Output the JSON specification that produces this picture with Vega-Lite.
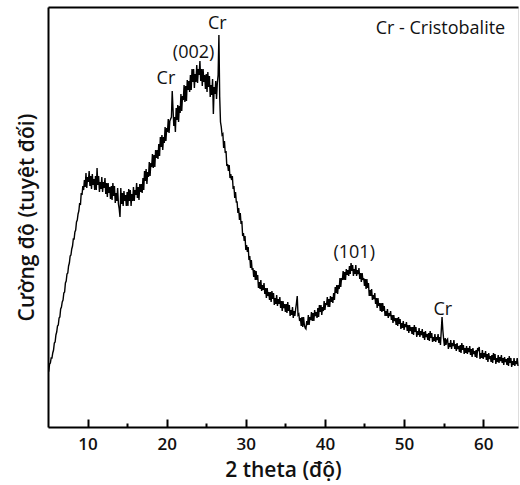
{
  "$schema": "https://vega.github.io/schema/vega-lite/v6.json",
  "width": 470,
  "height": 420,
  "autosize": {"type": "none"},
  "padding": {"left": 48, "top": 7, "right": 2, "bottom": 58},
  "datasets": {
    "xrd": [
      {"t":5.0,"i":56},{"t":5.1,"i":56},{"t":5.2,"i":63},{"t":5.3,"i":64},{"t":5.4,"i":69},{"t":5.5,"i":69},{"t":5.6,"i":74},{"t":5.7,"i":77},{"t":5.8,"i":84},{"t":5.9,"i":85},
      {"t":6.0,"i":92},{"t":6.1,"i":95},{"t":6.2,"i":101},{"t":6.3,"i":102},{"t":6.4,"i":109},{"t":6.5,"i":110},{"t":6.6,"i":118},{"t":6.7,"i":120},{"t":6.8,"i":125},{"t":6.9,"i":127},
      {"t":7.0,"i":134},{"t":7.1,"i":135},{"t":7.2,"i":144},{"t":7.3,"i":146},{"t":7.4,"i":153},{"t":7.5,"i":154},{"t":7.6,"i":161},{"t":7.7,"i":164},{"t":7.8,"i":171},{"t":7.9,"i":172},
      {"t":8.0,"i":178},{"t":8.1,"i":181},{"t":8.2,"i":188},{"t":8.3,"i":188},{"t":8.4,"i":195},{"t":8.5,"i":197},{"t":8.6,"i":205},{"t":8.7,"i":207},{"t":8.8,"i":213},{"t":8.9,"i":216},
      {"t":9.0,"i":224},{"t":9.1,"i":222},{"t":9.2,"i":234},{"t":9.3,"i":232},{"t":9.4,"i":241},{"t":9.5,"i":237},{"t":9.6,"i":247},{"t":9.7,"i":240},{"t":9.8,"i":254},{"t":9.9,"i":239},
      {"t":10.0,"i":250},{"t":10.1,"i":245},{"t":10.2,"i":256},{"t":10.3,"i":241},{"t":10.4,"i":251},{"t":10.5,"i":238},{"t":10.6,"i":253},{"t":10.7,"i":242},{"t":10.8,"i":248},{"t":10.9,"i":237},
      {"t":11.0,"i":251},{"t":11.1,"i":237},{"t":11.2,"i":259},{"t":11.3,"i":242},{"t":11.4,"i":251},{"t":11.5,"i":235},{"t":11.6,"i":245},{"t":11.7,"i":238},{"t":11.8,"i":250},{"t":11.9,"i":235},
      {"t":12.0,"i":245},{"t":12.1,"i":239},{"t":12.2,"i":249},{"t":12.3,"i":233},{"t":12.4,"i":244},{"t":12.5,"i":230},{"t":12.6,"i":244},{"t":12.7,"i":234},{"t":12.8,"i":240},{"t":12.9,"i":228},
      {"t":13.0,"i":241},{"t":13.1,"i":227},{"t":13.2,"i":244},{"t":13.3,"i":231},{"t":13.4,"i":241},{"t":13.5,"i":224},{"t":13.6,"i":234},{"t":13.7,"i":226},{"t":13.8,"i":239},{"t":13.9,"i":223},
      {"t":14.0,"i":218},{"t":14.1,"i":210},{"t":14.2,"i":239},{"t":14.3,"i":223},{"t":14.4,"i":234},{"t":14.5,"i":221},{"t":14.6,"i":236},{"t":14.7,"i":226},{"t":14.8,"i":232},{"t":14.9,"i":221},
      {"t":15.0,"i":235},{"t":15.1,"i":221},{"t":15.2,"i":238},{"t":15.3,"i":226},{"t":15.4,"i":237},{"t":15.5,"i":221},{"t":15.6,"i":233},{"t":15.7,"i":226},{"t":15.8,"i":240},{"t":15.9,"i":226},
      {"t":16.0,"i":237},{"t":16.1,"i":232},{"t":16.2,"i":244},{"t":16.3,"i":229},{"t":16.4,"i":240},{"t":16.5,"i":227},{"t":16.6,"i":243},{"t":16.7,"i":235},{"t":16.8,"i":243},{"t":16.9,"i":234},
      {"t":17.0,"i":249},{"t":17.1,"i":237},{"t":17.2,"i":256},{"t":17.3,"i":246},{"t":17.4,"i":258},{"t":17.5,"i":243},{"t":17.6,"i":255},{"t":17.7,"i":250},{"t":17.8,"i":265},{"t":17.9,"i":251},
      {"t":18.0,"i":264},{"t":18.1,"i":260},{"t":18.2,"i":273},{"t":18.3,"i":259},{"t":18.4,"i":272},{"t":18.5,"i":260},{"t":18.6,"i":277},{"t":18.7,"i":269},{"t":18.8,"i":277},{"t":18.9,"i":268},
      {"t":19.0,"i":283},{"t":19.1,"i":271},{"t":19.2,"i":290},{"t":19.3,"i":280},{"t":19.4,"i":292},{"t":19.5,"i":277},{"t":19.6,"i":290},{"t":19.7,"i":284},{"t":19.8,"i":300},{"t":19.9,"i":286},
      {"t":20.0,"i":299},{"t":20.1,"i":295},{"t":20.2,"i":308},{"t":20.3,"i":294},{"t":20.4,"i":306},{"t":20.5,"i":308},{"t":20.6,"i":310},{"t":20.7,"i":336},{"t":20.8,"i":318},{"t":20.9,"i":301},
      {"t":21.0,"i":310},{"t":21.1,"i":295},{"t":21.2,"i":319},{"t":21.3,"i":307},{"t":21.4,"i":322},{"t":21.5,"i":305},{"t":21.6,"i":321},{"t":21.7,"i":314},{"t":21.8,"i":333},{"t":21.9,"i":316},
      {"t":22.0,"i":331},{"t":22.1,"i":327},{"t":22.2,"i":342},{"t":22.3,"i":325},{"t":22.4,"i":341},{"t":22.5,"i":326},{"t":22.6,"i":347},{"t":22.7,"i":337},{"t":22.8,"i":346},{"t":22.9,"i":335},
      {"t":23.0,"i":352},{"t":23.1,"i":337},{"t":23.2,"i":358},{"t":23.3,"i":345},{"t":23.4,"i":358},{"t":23.5,"i":339},{"t":23.6,"i":353},{"t":23.7,"i":345},{"t":23.8,"i":362},{"t":23.9,"i":344},
      {"t":24.0,"i":358},{"t":24.1,"i":352},{"t":24.2,"i":366},{"t":24.3,"i":346},{"t":24.4,"i":358},{"t":24.5,"i":341},{"t":24.6,"i":358},{"t":24.7,"i":345},{"t":24.8,"i":352},{"t":24.9,"i":338},
      {"t":25.0,"i":353},{"t":25.1,"i":335},{"t":25.2,"i":355},{"t":25.3,"i":340},{"t":25.4,"i":351},{"t":25.5,"i":330},{"t":25.6,"i":342},{"t":25.7,"i":332},{"t":25.8,"i":348},{"t":25.9,"i":313},
      {"t":26.0,"i":340},{"t":26.1,"i":333},{"t":26.2,"i":346},{"t":26.3,"i":328},{"t":26.4,"i":344},{"t":26.5,"i":352},{"t":26.6,"i":392},{"t":26.7,"i":330},{"t":26.8,"i":305},{"t":26.9,"i":300},
      {"t":27.0,"i":292},{"t":27.1,"i":293},{"t":27.2,"i":279},{"t":27.3,"i":286},{"t":27.4,"i":274},{"t":27.5,"i":276},{"t":27.6,"i":261},{"t":27.7,"i":263},{"t":27.8,"i":256},{"t":27.9,"i":262},
      {"t":28.0,"i":249},{"t":28.1,"i":253},{"t":28.2,"i":247},{"t":28.3,"i":251},{"t":28.4,"i":238},{"t":28.5,"i":241},{"t":28.6,"i":229},{"t":28.7,"i":235},{"t":28.8,"i":225},{"t":28.9,"i":225},
      {"t":29.0,"i":214},{"t":29.1,"i":219},{"t":29.2,"i":207},{"t":29.3,"i":214},{"t":29.4,"i":203},{"t":29.5,"i":206},{"t":29.6,"i":191},{"t":29.7,"i":194},{"t":29.8,"i":186},{"t":29.9,"i":191},
      {"t":30.0,"i":177},{"t":30.1,"i":182},{"t":30.2,"i":175},{"t":30.3,"i":180},{"t":30.4,"i":167},{"t":30.5,"i":171},{"t":30.6,"i":159},{"t":30.7,"i":167},{"t":30.8,"i":157},{"t":30.9,"i":159},
      {"t":31.0,"i":150},{"t":31.1,"i":157},{"t":31.2,"i":147},{"t":31.3,"i":156},{"t":31.4,"i":147},{"t":31.5,"i":152},{"t":31.6,"i":139},{"t":31.7,"i":145},{"t":31.8,"i":138},{"t":31.9,"i":147},
      {"t":32.0,"i":136},{"t":32.1,"i":142},{"t":32.2,"i":137},{"t":32.3,"i":144},{"t":32.4,"i":133},{"t":32.5,"i":139},{"t":32.6,"i":129},{"t":32.7,"i":139},{"t":32.8,"i":131},{"t":32.9,"i":135},
      {"t":33.0,"i":127},{"t":33.1,"i":135},{"t":33.2,"i":125},{"t":33.3,"i":136},{"t":33.4,"i":128},{"t":33.5,"i":134},{"t":33.6,"i":122},{"t":33.7,"i":129},{"t":33.8,"i":123},{"t":33.9,"i":132},
      {"t":34.0,"i":121},{"t":34.1,"i":128},{"t":34.2,"i":123},{"t":34.3,"i":130},{"t":34.4,"i":119},{"t":34.5,"i":126},{"t":34.6,"i":116},{"t":34.7,"i":126},{"t":34.8,"i":119},{"t":34.9,"i":123},
      {"t":35.0,"i":115},{"t":35.1,"i":123},{"t":35.2,"i":114},{"t":35.3,"i":125},{"t":35.4,"i":116},{"t":35.5,"i":122},{"t":35.6,"i":111},{"t":35.7,"i":117},{"t":35.8,"i":112},{"t":35.9,"i":120},
      {"t":36.0,"i":109},{"t":36.1,"i":116},{"t":36.2,"i":111},{"t":36.3,"i":118},{"t":36.4,"i":124},{"t":36.5,"i":131},{"t":36.6,"i":112},{"t":36.7,"i":113},{"t":36.8,"i":106},{"t":36.9,"i":109},
      {"t":37.0,"i":101},{"t":37.1,"i":110},{"t":37.2,"i":100},{"t":37.3,"i":110},{"t":37.4,"i":102},{"t":37.5,"i":99},{"t":37.6,"i":98},{"t":37.7,"i":106},{"t":37.8,"i":102},{"t":37.9,"i":112},
      {"t":38.0,"i":102},{"t":38.1,"i":110},{"t":38.2,"i":107},{"t":38.3,"i":115},{"t":38.4,"i":106},{"t":38.5,"i":114},{"t":38.6,"i":106},{"t":38.7,"i":117},{"t":38.8,"i":111},{"t":38.9,"i":115},
      {"t":39.0,"i":109},{"t":39.1,"i":119},{"t":39.2,"i":110},{"t":39.3,"i":122},{"t":39.4,"i":115},{"t":39.5,"i":122},{"t":39.6,"i":112},{"t":39.7,"i":120},{"t":39.8,"i":116},{"t":39.9,"i":126},
      {"t":40.0,"i":117},{"t":40.1,"i":124},{"t":40.2,"i":122},{"t":40.3,"i":130},{"t":40.4,"i":120},{"t":40.5,"i":128},{"t":40.6,"i":120},{"t":40.7,"i":131},{"t":40.8,"i":125},{"t":40.9,"i":130},
      {"t":41.0,"i":124},{"t":41.1,"i":134},{"t":41.2,"i":127},{"t":41.3,"i":140},{"t":41.4,"i":134},{"t":41.5,"i":142},{"t":41.6,"i":133},{"t":41.7,"i":142},{"t":41.8,"i":138},{"t":41.9,"i":149},
      {"t":42.0,"i":140},{"t":42.1,"i":149},{"t":42.2,"i":147},{"t":42.3,"i":156},{"t":42.4,"i":147},{"t":42.5,"i":155},{"t":42.6,"i":147},{"t":42.7,"i":158},{"t":42.8,"i":152},{"t":42.9,"i":157},
      {"t":43.0,"i":151},{"t":43.1,"i":161},{"t":43.2,"i":153},{"t":43.3,"i":164},{"t":43.4,"i":156},{"t":43.5,"i":162},{"t":43.6,"i":151},{"t":43.7,"i":158},{"t":43.8,"i":153},{"t":43.9,"i":162},
      {"t":44.0,"i":151},{"t":44.1,"i":157},{"t":44.2,"i":153},{"t":44.3,"i":159},{"t":44.4,"i":148},{"t":44.5,"i":154},{"t":44.6,"i":145},{"t":44.7,"i":154},{"t":44.8,"i":147},{"t":44.9,"i":149},
      {"t":45.0,"i":141},{"t":45.1,"i":148},{"t":45.2,"i":138},{"t":45.3,"i":148},{"t":45.4,"i":139},{"t":45.5,"i":144},{"t":45.6,"i":131},{"t":45.7,"i":137},{"t":45.8,"i":131},{"t":45.9,"i":138},
      {"t":46.0,"i":127},{"t":46.1,"i":132},{"t":46.2,"i":128},{"t":46.3,"i":134},{"t":46.4,"i":123},{"t":46.5,"i":129},{"t":46.6,"i":119},{"t":46.7,"i":129},{"t":46.8,"i":121},{"t":46.9,"i":124},
      {"t":47.0,"i":116},{"t":47.1,"i":124},{"t":47.2,"i":115},{"t":47.3,"i":124},{"t":47.4,"i":116},{"t":47.5,"i":121},{"t":47.6,"i":111},{"t":47.7,"i":116},{"t":47.8,"i":111},{"t":47.9,"i":118},
      {"t":48.0,"i":109},{"t":48.1,"i":114},{"t":48.2,"i":111},{"t":48.3,"i":116},{"t":48.4,"i":107},{"t":48.5,"i":112},{"t":48.6,"i":104},{"t":48.7,"i":112},{"t":48.8,"i":106},{"t":48.9,"i":109},
      {"t":49.0,"i":102},{"t":49.1,"i":109},{"t":49.2,"i":101},{"t":49.3,"i":110},{"t":49.4,"i":103},{"t":49.5,"i":108},{"t":49.6,"i":98},{"t":49.7,"i":104},{"t":49.8,"i":99},{"t":49.9,"i":106},
      {"t":50.0,"i":97},{"t":50.1,"i":103},{"t":50.2,"i":100},{"t":50.3,"i":105},{"t":50.4,"i":96},{"t":50.5,"i":102},{"t":50.6,"i":94},{"t":50.7,"i":102},{"t":50.8,"i":96},{"t":50.9,"i":100},
      {"t":51.0,"i":93},{"t":51.1,"i":100},{"t":51.2,"i":92},{"t":51.3,"i":102},{"t":51.4,"i":95},{"t":51.5,"i":100},{"t":51.6,"i":90},{"t":51.7,"i":96},{"t":51.8,"i":92},{"t":51.9,"i":99},
      {"t":52.0,"i":90},{"t":52.1,"i":96},{"t":52.2,"i":92},{"t":52.3,"i":98},{"t":52.4,"i":89},{"t":52.5,"i":95},{"t":52.6,"i":87},{"t":52.7,"i":96},{"t":52.8,"i":90},{"t":52.9,"i":93},
      {"t":53.0,"i":87},{"t":53.1,"i":94},{"t":53.2,"i":86},{"t":53.3,"i":96},{"t":53.4,"i":89},{"t":53.5,"i":94},{"t":53.6,"i":85},{"t":53.7,"i":90},{"t":53.8,"i":86},{"t":53.9,"i":93},
      {"t":54.0,"i":85},{"t":54.1,"i":90},{"t":54.2,"i":87},{"t":54.3,"i":93},{"t":54.4,"i":84},{"t":54.5,"i":90},{"t":54.6,"i":82},{"t":54.7,"i":96},{"t":54.8,"i":110},{"t":54.9,"i":97},
      {"t":55.0,"i":88},{"t":55.1,"i":81},{"t":55.2,"i":89},{"t":55.3,"i":82},{"t":55.4,"i":87},{"t":55.5,"i":88},{"t":55.6,"i":78},{"t":55.7,"i":84},{"t":55.8,"i":80},{"t":55.9,"i":87},
      {"t":56.0,"i":78},{"t":56.1,"i":84},{"t":56.2,"i":81},{"t":56.3,"i":87},{"t":56.4,"i":78},{"t":56.5,"i":83},{"t":56.6,"i":76},{"t":56.7,"i":84},{"t":56.8,"i":78},{"t":56.9,"i":81},
      {"t":57.0,"i":75},{"t":57.1,"i":82},{"t":57.2,"i":74},{"t":57.3,"i":84},{"t":57.4,"i":77},{"t":57.5,"i":82},{"t":57.6,"i":73},{"t":57.7,"i":79},{"t":57.8,"i":74},{"t":57.9,"i":81},
      {"t":58.0,"i":73},{"t":58.1,"i":79},{"t":58.2,"i":75},{"t":58.3,"i":81},{"t":58.4,"i":72},{"t":58.5,"i":78},{"t":58.6,"i":70},{"t":58.7,"i":79},{"t":58.8,"i":73},{"t":58.9,"i":76},
      {"t":59.0,"i":70},{"t":59.1,"i":77},{"t":59.2,"i":69},{"t":59.3,"i":79},{"t":59.4,"i":76},{"t":59.5,"i":80},{"t":59.6,"i":68},{"t":59.7,"i":74},{"t":59.8,"i":69},{"t":59.9,"i":77},
      {"t":60.0,"i":68},{"t":60.1,"i":74},{"t":60.2,"i":70},{"t":60.3,"i":76},{"t":60.4,"i":67},{"t":60.5,"i":73},{"t":60.6,"i":65},{"t":60.7,"i":74},{"t":60.8,"i":68},{"t":60.9,"i":71},
      {"t":61.0,"i":65},{"t":61.1,"i":72},{"t":61.2,"i":64},{"t":61.3,"i":74},{"t":61.4,"i":67},{"t":61.5,"i":73},{"t":61.6,"i":63},{"t":61.7,"i":69},{"t":61.8,"i":65},{"t":61.9,"i":72},
      {"t":62.0,"i":64},{"t":62.1,"i":70},{"t":62.2,"i":66},{"t":62.3,"i":72},{"t":62.4,"i":64},{"t":62.5,"i":69},{"t":62.6,"i":62},{"t":62.7,"i":70},{"t":62.8,"i":65},{"t":62.9,"i":68},
      {"t":63.0,"i":62},{"t":63.1,"i":69},{"t":63.2,"i":61},{"t":63.3,"i":71},{"t":63.4,"i":64},{"t":63.5,"i":69},{"t":63.6,"i":60},{"t":63.7,"i":66},{"t":63.8,"i":62},{"t":63.9,"i":69},
      {"t":64.0,"i":61},{"t":64.1,"i":66},{"t":64.2,"i":63},{"t":64.3,"i":69},{"t":64.4,"i":61}
    ],
    "notes": [
      {"t":54.6,"i":398,"label":"Cr - Cristobalite"},
      {"t":23.4,"i":374,"label":"(002)"},
      {"t":26.4,"i":403,"label":"Cr"},
      {"t":19.9,"i":348,"label":"Cr"},
      {"t":43.7,"i":174.5,"label":"(101)"},
      {"t":54.9,"i":117,"label":"Cr"}
    ]
  },
  "layer": [
    {
      "data": {"name": "xrd"},
      "mark": {"type": "line", "color": "#000", "strokeWidth": 1.4},
      "encoding": {
        "x": {
          "field": "t", "type": "quantitative",
          "scale": {"domain": [5, 64.4], "nice": false, "zero": false},
          "axis": {
            "values": [10, 15, 20, 25, 30, 35, 40, 45, 50, 55, 60],
            "labelExpr": "datum.value % 10 === 0 ? datum.label : ''",
            "ticks": false,
            "grid": true, "gridColor": "#000", "gridWidth": 2, "gridOpacity": 1,
            "gridDash": {"condition": {"test": "datum.value % 10 !== 0", "value": [0, 416, 4, 1000]}, "value": [0, 412, 8, 1000]},
            "domainColor": "#000", "domainWidth": 2,
            "labelFont": "Open Sans", "labelFontSize": 17, "labelFontWeight": 600, "labelColor": "#111", "labelPadding": 9,
            "title": "2 theta (độ)", "titleFont": "Open Sans", "titleFontSize": 21, "titleFontWeight": 600, "titleColor": "#111", "titlePadding": 7
          }
        },
        "y": {
          "field": "i", "type": "quantitative",
          "scale": {"domain": [0, 420], "nice": false, "zero": false},
          "axis": {
            "title": "Cường độ (tuyệt đối)", "ticks": false, "labels": false,
            "values": [420],
            "grid": true, "gridColor": "#000", "gridWidth": 2, "gridOpacity": 1,
            "domainColor": "#000", "domainWidth": 2,
            "titleFont": "Open Sans", "titleFontSize": 21, "titleFontWeight": 600, "titleColor": "#111", "titlePadding": 11
          }
        }
      }
    },
    {
      "data": {"name": "notes"},
      "mark": {"type": "text", "font": "Open Sans", "fontSize": 18, "color": "#111", "baseline": "middle"},
      "encoding": {
        "x": {"field": "t", "type": "quantitative"},
        "y": {"field": "i", "type": "quantitative"},
        "text": {"field": "label"}
      }
    }
  ]
}
